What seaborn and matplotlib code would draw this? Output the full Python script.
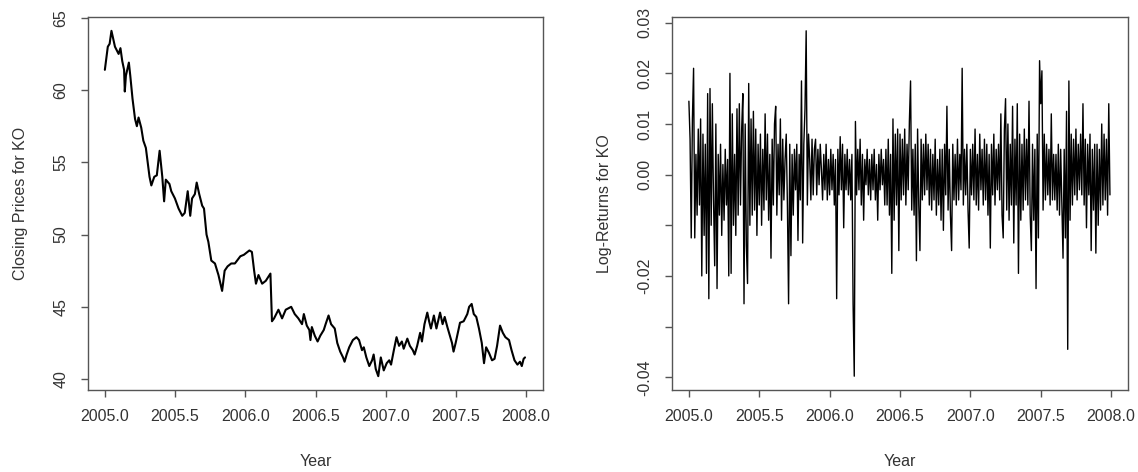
import numpy as np
import pandas as pd
import matplotlib
matplotlib.use("Agg")
import matplotlib.pyplot as plt
import seaborn as sns

# Closing prices for KO
price_year = [2005.000, 2005.021, 2005.034, 2005.047, 2005.072, 2005.098, 2005.111, 2005.124,
              2005.137, 2005.142, 2005.150, 2005.171, 2005.181, 2005.197, 2005.215, 2005.228,
              2005.240, 2005.259, 2005.274, 2005.292, 2005.305, 2005.318, 2005.331, 2005.352,
              2005.370, 2005.390, 2005.409, 2005.422, 2005.434, 2005.460, 2005.473, 2005.499,
              2005.525, 2005.551, 2005.569, 2005.590, 2005.608, 2005.621, 2005.641, 2005.654,
              2005.672, 2005.693, 2005.706, 2005.724, 2005.737, 2005.758, 2005.784, 2005.809,
              2005.835, 2005.853, 2005.874, 2005.900, 2005.926, 2005.965, 2005.990, 2006.029,
              2006.047, 2006.063, 2006.076, 2006.094, 2006.120, 2006.146, 2006.179, 2006.190,
              2006.205, 2006.236, 2006.262, 2006.288, 2006.327, 2006.352, 2006.378, 2006.404,
              2006.417, 2006.438, 2006.456, 2006.464, 2006.474, 2006.495, 2006.515, 2006.534,
              2006.559, 2006.572, 2006.593, 2006.611, 2006.637, 2006.655, 2006.676, 2006.696,
              2006.707, 2006.722, 2006.740, 2006.766, 2006.792, 2006.810, 2006.831, 2006.844,
              2006.862, 2006.883, 2006.903, 2006.914, 2006.929, 2006.947, 2006.965, 2006.986,
              2007.007, 2007.025, 2007.038, 2007.058, 2007.077, 2007.095, 2007.115, 2007.128,
              2007.154, 2007.172, 2007.193, 2007.206, 2007.224, 2007.245, 2007.258, 2007.276,
              2007.296, 2007.309, 2007.322, 2007.343, 2007.361, 2007.387, 2007.405, 2007.420,
              2007.439, 2007.457, 2007.472, 2007.483, 2007.498, 2007.516, 2007.529, 2007.555,
              2007.581, 2007.594, 2007.612, 2007.627, 2007.645, 2007.664, 2007.684, 2007.700,
              2007.715, 2007.736, 2007.757, 2007.775, 2007.793, 2007.814, 2007.834, 2007.852,
              2007.878, 2007.896, 2007.917, 2007.938, 2007.956, 2007.969, 2007.982, 2007.992]
price_close = [61.4, 63.0, 63.2, 64.1, 63.0, 62.5, 62.9, 62.0,
               61.4, 59.9, 61.0, 61.9, 61.0, 59.4, 58.0, 57.5,
               58.1, 57.4, 56.5, 56.0, 55.0, 54.0, 53.4, 54.0,
               54.1, 55.8, 54.0, 52.3, 53.8, 53.5, 53.0, 52.5,
               51.8, 51.3, 51.5, 53.0, 51.3, 52.5, 52.8, 53.6,
               52.8, 52.0, 51.8, 50.0, 49.5, 48.2, 48.0, 47.2,
               46.1, 47.5, 47.8, 48.0, 48.0, 48.5, 48.6, 48.9,
               48.8, 47.5, 46.6, 47.2, 46.6, 46.8, 47.3, 44.0,
               44.2, 44.8, 44.2, 44.8, 45.0, 44.5, 44.2, 43.8,
               44.5, 43.7, 43.4, 42.7, 43.6, 43.0, 42.6, 43.0,
               43.4, 43.8, 44.4, 43.8, 43.5, 42.5, 41.9, 41.5,
               41.2, 41.7, 42.2, 42.7, 42.9, 42.7, 42.0, 42.2,
               41.5, 40.9, 41.3, 41.7, 40.7, 40.2, 41.5, 40.6,
               41.1, 41.3, 41.0, 42.0, 42.9, 42.3, 42.6, 42.1,
               42.8, 42.3, 42.0, 41.7, 42.3, 43.2, 42.6, 43.8,
               44.6, 44.0, 43.5, 44.4, 43.5, 44.6, 43.8, 44.3,
               43.6, 43.0, 42.5, 41.9, 42.5, 43.3, 43.9, 44.0,
               44.5, 45.0, 45.2, 44.5, 44.3, 43.5, 42.5, 41.1,
               42.2, 41.8, 41.3, 41.4, 42.3, 43.7, 43.2, 42.9,
               42.7, 42.0, 41.3, 41.0, 41.2, 40.9, 41.4, 41.5]

# Log-returns for KO (one value every two trading days)
log_returns = [
    0.0145, 0.007, -0.0125, 0.011, 0.021, -0.0125, 0.004, -0.008, 0.009, -0.006, 0.011, -0.020,
    0.008, -0.012, 0.006, -0.0195, 0.016, -0.0245, 0.017, -0.010, 0.014, -0.005, -0.018, 0.010,
    -0.0225, 0.004, -0.008, 0.006, -0.012, 0.002, -0.009, 0.005, -0.006, 0.003, -0.020, 0.020,
    -0.0195, 0.012, -0.010, 0.004, -0.012, 0.013, -0.008, 0.014, -0.006, 0.009, 0.016, -0.0255,
    0.010, -0.014, -0.0215, 0.018, -0.010, 0.011, -0.008, 0.0125, -0.007, 0.009, -0.012, 0.006,
    -0.006, 0.008, -0.010, 0.005, -0.007, 0.012, -0.005, 0.008, -0.009, 0.004, -0.0165, 0.007,
    -0.006, 0.010, 0.0135, -0.008, 0.006, -0.004, 0.011, -0.009, 0.007, -0.005, 0.003, 0.008,
    -0.006, -0.0255, 0.006, -0.016, 0.004, -0.008, 0.005, -0.003, 0.006, -0.013, 0.004, -0.005,
    0.0185, -0.0135, 0.006, 0.013, 0.0284, -0.006, 0.008, 0.003, -0.005, 0.007, -0.004, 0.005,
    0.007, -0.004, 0.005, -0.002, 0.006, 0.001, -0.005, 0.004, -0.003, 0.006, -0.005, 0.003,
    -0.004, 0.005, -0.003, 0.004, -0.006, 0.003, -0.0245, 0.005, -0.004, 0.0075, -0.003, 0.006,
    -0.0105, 0.004, -0.003, 0.005, -0.004, 0.003, -0.005, 0.004, -0.0255, -0.0398, 0.0105, -0.004,
    0.005, -0.003, 0.007, -0.006, 0.004, -0.009, 0.003, -0.002, 0.005, -0.004, 0.003, -0.005,
    0.004, -0.003, 0.005, -0.005, 0.002, -0.009, 0.004, -0.003, 0.005, -0.002, 0.003, -0.006,
    0.005, -0.006, 0.007, -0.008, 0.004, -0.0195, 0.011, -0.009, 0.008, -0.006, 0.009, -0.015,
    0.008, -0.005, 0.007, -0.004, 0.009, -0.006, 0.006, -0.003, 0.0105, 0.0185, -0.007, 0.005,
    -0.008, 0.006, -0.017, 0.009, -0.006, -0.015, 0.007, -0.005, 0.006, -0.004, 0.008, -0.003,
    0.006, -0.006, 0.005, -0.007, 0.004, -0.005, 0.007, -0.008, 0.003, -0.006, 0.005, -0.009,
    0.005, -0.011, 0.006, -0.004, 0.0135, -0.007, 0.005, -0.008, -0.015, 0.006, -0.005, 0.004,
    -0.006, 0.007, -0.005, 0.004, -0.003, 0.021, -0.006, 0.005, -0.004, 0.006, -0.007, -0.0145,
    0.005, -0.004, 0.006, -0.005, 0.009, -0.006, 0.004, -0.007, 0.008, -0.003, 0.005, -0.006,
    0.007, -0.005, 0.006, -0.008, 0.004, -0.0145, 0.006, -0.004, 0.008, -0.006, 0.005, -0.003,
    0.006, -0.005, 0.012, -0.008, -0.0125, 0.009, 0.015, -0.007, 0.010, -0.009, 0.006, -0.006,
    0.0135, -0.0135, 0.007, -0.006, 0.014, -0.0195, 0.008, -0.009, 0.006, -0.007, 0.009, -0.005,
    0.007, -0.006, 0.0145, -0.008, -0.015, 0.006, -0.009, 0.005, -0.0225, 0.008, -0.0125, 0.0225,
    0.014, 0.0205, -0.007, 0.008, -0.005, 0.006, -0.004, 0.005, -0.006, 0.012, -0.005, 0.004,
    -0.005, 0.004, -0.007, 0.006, -0.008, 0.005, -0.006, -0.0165, 0.005, -0.0125, 0.0125, -0.0345,
    0.0185, -0.009, 0.008, -0.006, 0.007, -0.004, 0.009, -0.005, 0.006, -0.003, 0.008, -0.004,
    0.014, -0.006, 0.007, -0.0105, 0.006, -0.004, 0.008, -0.015, 0.005, -0.007, 0.006, -0.0155,
    0.006, -0.010, 0.005, -0.007, 0.010, -0.006, 0.008, -0.005, 0.007, -0.008, 0.014, -0.004,
]
return_year = 2005 + np.arange(len(log_returns)) / 120.0

year_ticks = [2005.0, 2005.5, 2006.0, 2006.5, 2007.0, 2007.5, 2008.0]
price_ticks = [40, 45, 50, 55, 60, 65]
return_ticks = [-0.04, -0.03, -0.02, -0.01, 0.00, 0.01, 0.02, 0.03]
return_tick_labels = ["-0.04", "", "-0.02", "", "0.00", "0.01", "0.02", "0.03"]

sns.set_theme(style="white")
plt.rcParams["font.family"] = ["Liberation Sans", "DejaVu Sans"]

prices = pd.DataFrame({"Year": price_year, "Close": price_close})
returns = pd.DataFrame({"Year": return_year, "LogRet": log_returns})

text_col = "#333333"
frame_col = "#555555"

fig = plt.figure(figsize=(11.38, 4.72), dpi=100)
ax1 = fig.add_axes([88 / 1138, 1 - 390 / 472, 455 / 1138, 373 / 472])
ax2 = fig.add_axes([672 / 1138, 1 - 390 / 472, 456 / 1138, 373 / 472])


def r_limits(values):
    # R style: data range padded by 4% each side
    lo, hi = float(np.min(values)), float(np.max(values))
    pad = 0.04 * (hi - lo)
    return lo - pad, hi + pad


sns.lineplot(data=prices, x="Year", y="Close", ax=ax1, color="black",
             linewidth=1.5, sort=False, errorbar=None)
sns.lineplot(data=returns, x="Year", y="LogRet", ax=ax2, color="black",
             linewidth=1.0, sort=False, errorbar=None)

for ax, df, col in [(ax1, prices, "Close"), (ax2, returns, "LogRet")]:
    ax.set_xlim(*r_limits(np.concatenate([df["Year"].values, [2005.0, 2008.0]])))
    ax.set_ylim(*r_limits(df[col].values))
    for s in ax.spines.values():
        s.set_color(frame_col)
        s.set_linewidth(1.0)
    ax.set_xticks(year_ticks)
    ax.set_xticklabels([f"{y:.1f}" for y in year_ticks])
    ax.tick_params(axis="both", direction="out", length=5, width=1.0,
                   color=frame_col, labelcolor=text_col, labelsize=11.5,
                   bottom=True, left=True)
    ax.tick_params(axis="x", pad=9)
    ax.tick_params(axis="y", pad=9)
    ax.set_xlabel("Year", fontsize=11.5, color=text_col)
    ax.xaxis.set_label_coords(0.5, -0.172)

ax1.set_yticks(price_ticks)
ax1.set_yticklabels([str(p) for p in price_ticks])
ax2.set_yticks(return_ticks)
ax2.set_yticklabels(return_tick_labels)
for ax in (ax1, ax2):
    for lbl in ax.get_yticklabels():
        lbl.set_rotation(90)
        lbl.set_va("center")

ax1.set_ylabel("Closing Prices for KO", fontsize=11.5, color=text_col)
ax1.yaxis.set_label_coords(-0.132, 0.5)
ax2.set_ylabel("Log-Returns for KO", fontsize=11.5, color=text_col)
ax2.yaxis.set_label_coords(-0.132, 0.5)

fig.savefig("out.png", dpi=100)
